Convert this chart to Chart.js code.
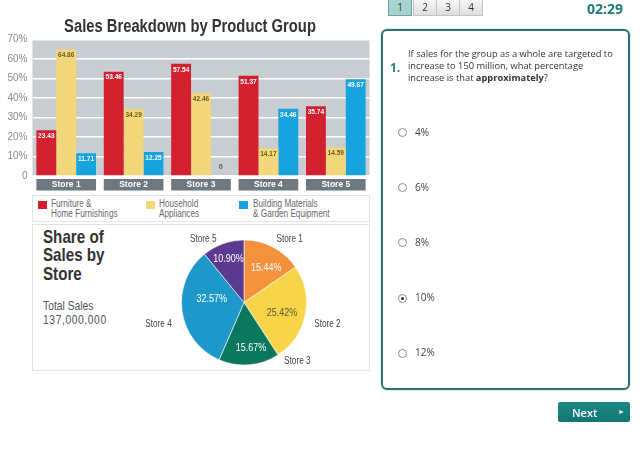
<!DOCTYPE html>
<html><head><meta charset="utf-8">
<script src="https://cdn.jsdelivr.net/npm/chart.js@4.4.1/dist/chart.umd.min.js"></script>
<style>
html,body{margin:0;padding:0;background:#fff;width:640px;height:450px;overflow:hidden;}
body{position:relative;font-family:"Open Sans",sans-serif;}
.abs{position:absolute;}
.narrow{font-family:"Liberation Sans",Arial,sans-serif;transform:scaleX(0.82);transform-origin:0 0;white-space:nowrap;}
#legend{left:32px;top:195px;width:336px;height:25px;border:1px solid #e3e3e3;background:#fff;}
.sw{position:absolute;width:9px;height:8px;top:5px;}
.lt{position:absolute;top:3px;font-size:10px;line-height:10px;color:#6a6a6a;}
#pieBox{left:32px;top:224px;width:336px;height:145px;border:1px solid #e3e3e3;}
#shareTitle{left:43px;top:228px;font-weight:bold;font-size:18.5px;line-height:18.4px;color:#333;}
#total{left:43px;top:300px;font-size:12.6px;line-height:13.5px;color:#555;}
#total span{letter-spacing:0.7px;}
.pg{position:absolute;top:-1px;height:15px;width:22px;border:1px solid #c4c4c4;background:linear-gradient(#f7f7f7,#dedede);font-size:10px;line-height:15px;text-align:center;color:#333;}
.pg.sel{background:#a9d3d1;border-color:#6aa5a3;}
#timer{left:587px;top:0px;font-size:14px;font-weight:bold;color:#1f7a75;line-height:17px;}
#panel{left:381px;top:29px;width:245px;height:357px;border:2px solid #2d6f70;border-radius:6px;box-shadow:0 0 2px #9cc;}
#qnum{left:390px;top:59px;font-size:12px;font-weight:bold;color:#2b7a77;}
#qtext{left:408px;top:48px;font-size:9.3px;line-height:12px;color:#333;white-space:nowrap;}
.radio{position:absolute;width:7px;height:7px;border:1px solid #8a8a8a;border-radius:50%;background:#fff;}
.radio.on::after{content:"";position:absolute;left:2px;top:2px;width:3px;height:3px;border-radius:50%;background:#333;}
.opt{position:absolute;font-size:10px;color:#444;line-height:12px;}
#next{left:558px;top:402px;width:72px;height:20px;background:linear-gradient(#1b8a84,#137670);border-radius:2px;color:#fff;}
</style></head><body>

<div class="abs" style="left:0;top:0;"><canvas id="bar" width="380" height="192"></canvas></div>
<div id="legend" class="abs"></div>
<div id="pieBox" class="abs"></div>
<div id="shareTitle" class="abs narrow">Share of<br>Sales by<br>Store</div>
<div id="total" class="abs narrow"></div>
<div class="abs" style="left:124px;top:226px;"><canvas id="pie" width="240" height="142"></canvas></div>

<div id="pages"></div>
<div id="timer" class="abs">02:29</div>
<div id="panel" class="abs"></div>
<div id="qnum" class="abs">1.</div>
<div id="qtext" class="abs">If sales for the group as a whole are targeted to<br>increase to 150 million, what percentage<br>increase is that <b>approximately</b>?</div>
<div id="opts"></div>
<div id="next" class="abs"><span style="position:absolute;left:14px;top:3px;font-size:11px;font-weight:600;">Next</span><span style="position:absolute;left:60px;top:5px;font-size:7px;">&#9658;</span></div>

<script>
// ---- data ----
const stores = ['Store 1','Store 2','Store 3','Store 4','Store 5'];
const seriesNames = [['Furniture &','Home Furnishings'],['Household','Appliances'],['Building Materials','& Garden Equipment']];
const furniture = [23.43,53.46,57.54,51.37,35.74];
const household = [64.86,34.29,42.46,14.17,14.59];
const building  = [11.71,12.25,0,34.46,49.67];
const yMax = 70, yStep = 10;
const chartTitle = 'Sales Breakdown by Product Group';
const storeShare = [15.44,25.42,15.67,32.57,10.90];
const totalSales = '137,000,000';
const pages = ['1','2','3','4'];
const answers = ['4%','6%','8%','10%','12%'];
const selectedAnswer = 3;

const SANS = '"Liberation Sans", Arial, sans-serif';
const SQUEEZE = 0.82;
const barColors = ['#d3202f','#f2d87a','#17a3dd'];
const barLabelColors = ['#ffffff','#6b5a1c','#ffffff'];
const pieColors = ['#f4913c','#f8d548','#0b775c','#1d98c8','#5b3b8f'];
const pieTextColors = ['#ffffff','#5e5630','#ffffff','#ffffff','#ffffff'];

function narrowText(ctx, text, x, y){
  ctx.save(); ctx.translate(x, y); ctx.scale(SQUEEZE, 1); ctx.fillText(text, 0, 0); ctx.restore();
}

// ---- bar chart ----
const plotBg = {
  id:'plotBg',
  beforeDraw(chart){
    const {ctx, chartArea:a, scales:{x}} = chart;
    ctx.save();
    ctx.fillStyle = '#c8cdd2';
    ctx.fillRect(a.left, a.top, a.width, a.height);
    const cw = x.width / chart.data.labels.length;
    ctx.fillStyle = '#6f7880';
    chart.data.labels.forEach((l,i)=>{
      const cx = x.getPixelForValue(i);
      const w = cw*0.885;
      ctx.fillRect(cx - w/2, a.bottom + 3, w, 11.5);
    });
    ctx.restore();
  },
  afterDraw(chart){
    const ctx = chart.ctx;
    ctx.save();
    ctx.font = 'bold 18px ' + SANS; ctx.fillStyle = '#333';
    ctx.textAlign = 'center'; ctx.textBaseline = 'alphabetic';
    narrowText(ctx, chartTitle, chart.width/2, 31.5);
    ctx.restore();
  }
};
const barLabels = {
  id:'barLabels',
  afterDatasetsDraw(chart){
    const ctx = chart.ctx;
    ctx.save();
    ctx.font = 'bold 8px ' + SANS;
    ctx.textAlign = 'center'; ctx.textBaseline = 'middle';
    chart.data.datasets.forEach((ds,i)=>{
      chart.getDatasetMeta(i).data.forEach((el,j)=>{
        const v = ds.data[j];
        if (v === 0) { ctx.fillStyle = '#555'; narrowText(ctx, '0', el.x, el.base - 9); }
        else { ctx.fillStyle = barLabelColors[i]; narrowText(ctx, v.toFixed(2), el.x, el.y + 5.5); }
      });
    });
    ctx.restore();
  }
};
const seriesData = [furniture, household, building];
new Chart(document.getElementById('bar'), {
  type:'bar',
  data:{
    labels: stores,
    datasets: seriesData.map((d,i)=>({label: seriesNames[i].join(' '), data: d, backgroundColor: barColors[i], categoryPercentage:0.885, barPercentage:1.0}))
  },
  options:{
    responsive:false, animation:false,
    layout:{padding:{left:0,right:10.5,top:39.5,bottom:0}},
    plugins:{ legend:{display:false}, tooltip:{enabled:false}, title:{display:false} },
    scales:{
      y:{min:0, max:yMax, ticks:{stepSize:yStep, color:'#8a8a8a', font:{family:SANS,size:10}, padding:5, callback:v=> v===0 ? '0' : v+'%'},
         grid:{color:'#ffffff', lineWidth:1.5, drawTicks:false}, border:{display:false},
         afterFit(s){ s.width = 32.5; }},
      x:{grid:{display:false, drawTicks:false}, border:{display:false},
         ticks:{color:'#ffffff', font:{family:SANS,size:8.5,weight:'bold'}, padding:4},
         afterFit(s){ s.height = 16; }}
    }
  },
  plugins:[plotBg, barLabels]
});

// ---- legend (html) ----
const legendPos = [[5,18],[113,126],[206,220]];
const lg = document.getElementById('legend');
seriesNames.forEach((n,i)=>{
  const sw = document.createElement('div'); sw.className='sw'; sw.style.left=legendPos[i][0]+'px'; sw.style.background=barColors[i]; lg.appendChild(sw);
  const t = document.createElement('div'); t.className='lt narrow'; t.style.left=legendPos[i][1]+'px'; t.innerHTML = n.join('<br>'); lg.appendChild(t);
});
document.getElementById('total').innerHTML = 'Total Sales<br><span>' + totalSales + '</span>';

// ---- pie chart ----
const pieLabels = {
  id:'pieLabels',
  afterDatasetsDraw(chart, args, o){
    const ctx = chart.ctx;
    ctx.save();
    ctx.textAlign='center'; ctx.textBaseline='middle';
    chart.getDatasetMeta(0).data.forEach((arc,i)=>{
      const p = arc.getProps(['x','y','startAngle','endAngle','outerRadius'], true);
      const mid = (p.startAngle + p.endAngle)/2;
      const a1 = mid + o.inShift[i]*Math.PI/180, r1 = p.outerRadius*o.inR[i];
      ctx.font = '11px ' + SANS; ctx.fillStyle = pieTextColors[i];
      narrowText(ctx, storeShare[i].toFixed(2)+'%', p.x + Math.cos(a1)*r1, p.y + Math.sin(a1)*r1);
      const a2 = mid + o.outShift[i]*Math.PI/180, r2 = p.outerRadius*o.outR[i];
      ctx.font = '10px ' + SANS; ctx.fillStyle = '#444';
      narrowText(ctx, stores[i], p.x + Math.cos(a2)*r2, p.y + Math.sin(a2)*r2);
    });
    ctx.restore();
  }
};
new Chart(document.getElementById('pie'), {
  type:'pie',
  data:{labels:stores, datasets:[{data:storeShare, backgroundColor:pieColors, borderColor:'rgba(255,255,255,0.7)', borderWidth:0.8}]},
  options:{
    responsive:false, animation:false, radius:62.5,
    layout:{padding:{top:11,bottom:0,left:0,right:0}},
    plugins:{legend:{display:false}, tooltip:{enabled:false},
      pieLabels:{inShift:[5,4,-4,14,0], inR:[0.66,0.63,0.74,0.52,0.74], outShift:[8,3.4,-37.5,-6.3,-13], outR:[1.25,1.38,1.27,1.41,1.21]}}
  },
  plugins:[pieLabels]
});

// ---- quiz UI ----
const pg = document.getElementById('pages');
const pgLeft = [388,413,436,459];
pages.forEach((p,i)=>{
  const d = document.createElement('div'); d.className = 'pg' + (i===0?' sel':''); d.style.left = pgLeft[i]+'px'; d.textContent = p; pg.appendChild(d);
});
const op = document.getElementById('opts');
answers.forEach((a,i)=>{
  const cy = 132.7 + i*55.1;
  const r = document.createElement('div'); r.className='radio'+(i===selectedAnswer?' on':''); r.style.left='398px'; r.style.top=(cy-4.5)+'px'; op.appendChild(r);
  const t = document.createElement('div'); t.className='opt'; t.style.left='415px'; t.style.top=(cy-7)+'px'; t.textContent=a; op.appendChild(t);
});
</script>
</body></html>
